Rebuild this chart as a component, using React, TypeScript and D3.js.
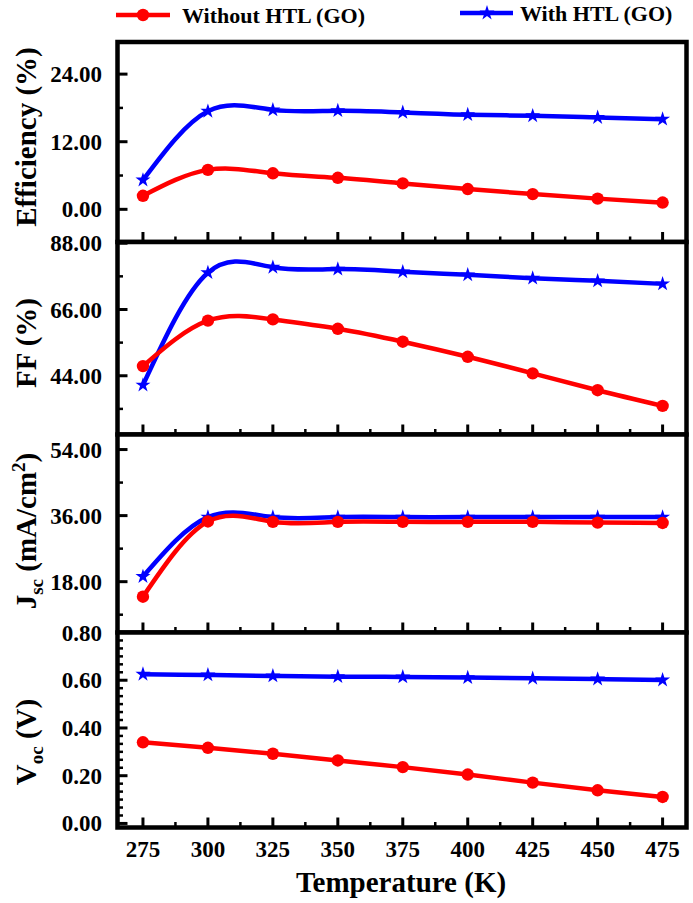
import React from "react";
import * as d3 from "d3";

const temperatures = [275, 300, 325, 350, 375, 400, 425, 450, 475];
const xTickValues = [275, 300, 325, 350, 375, 400, 425, 450, 475];
const xMinorTicks = [287.5, 312.5, 337.5, 362.5, 387.5, 412.5, 437.5, 462.5];

const effWithout = [2.4, 7.0, 6.4, 5.6, 4.6, 3.6, 2.7, 1.9, 1.2];
const effWith = [5.2, 17.4, 17.65, 17.5, 17.2, 16.8, 16.6, 16.3, 16.0];
const ffWithout = [47.2, 62.3, 62.7, 59.6, 55.3, 50.3, 44.8, 39.2, 34.0];
const ffWith = [40.9, 78.2, 80.0, 79.4, 78.5, 77.5, 76.4, 75.5, 74.5];
const jscWithout = [13.9, 34.4, 34.3, 34.3, 34.3, 34.3, 34.3, 34.1, 34.0];
const jscWith = [19.4, 35.6, 35.6, 35.6, 35.6, 35.6, 35.6, 35.6, 35.6];
const vocWithout = [0.34, 0.317, 0.292, 0.264, 0.236, 0.205, 0.171, 0.139, 0.111];
const vocWith = [0.625, 0.622, 0.618, 0.615, 0.614, 0.611, 0.608, 0.605, 0.601];

const effTicks = [0, 12, 24];
const effMinor = [6, 18];
const ffTicks = [44, 66, 88];
const ffMinor = [33, 55, 77];
const jscTicks = [18, 36, 54];
const jscMinor = [9, 27, 45];
const vocTicks = [0, 0.2, 0.4, 0.6, 0.8];
const vocMinor = [1, 2, 3, 4, 5, 7, 8, 9, 10, 11, 13, 14, 15, 16, 17, 19, 20, 21, 22, 23].map((k) => k / 30);

const seriesNames = ["Without HTL (GO)", "With HTL (GO)"];
const RED = "#ff0000";
const BLUE = "#0000ff";
const FONT =
  "'Times New Roman', Times, 'Liberation Serif', Tinos, 'Nimbus Roman', 'Nimbus Roman No9 L', 'Noto Serif', 'DejaVu Serif', FreeSerif, serif";
const fontStyle: React.CSSProperties = { fontFamily: FONT, fontWeight: 700 };

const LEFT = 117.5;
const RIGHT = 686.5;

const x = d3.scaleLinear().domain([265.2, 484.2]).range([LEFT, RIGHT]);

type Panel = {
  key: string;
  top: number;
  bottom: number;
  domain: [number, number];
  ticks: number[];
  minor: number[];
  without: number[];
  withH: number[];
  labelY: number;
  label: React.ReactNode;
};

const panels: Panel[] = [
  {
    key: "eff",
    top: 42,
    bottom: 242,
    domain: [-5.8, 29.7],
    ticks: effTicks,
    minor: effMinor,
    without: effWithout,
    withH: effWith,
    labelY: 137,
    label: <tspan>Efficiency (%)</tspan>,
  },
  {
    key: "ff",
    top: 242,
    bottom: 434.5,
    domain: [24.5, 88.4],
    ticks: ffTicks,
    minor: ffMinor,
    without: ffWithout,
    withH: ffWith,
    labelY: 343,
    label: <tspan>FF (%)</tspan>,
  },
  {
    key: "jsc",
    top: 434.5,
    bottom: 632.5,
    domain: [4.15, 58.1],
    ticks: jscTicks,
    minor: jscMinor,
    without: jscWithout,
    withH: jscWith,
    labelY: 531,
    label: (
      <>
        <tspan>J</tspan>
        <tspan fontSize={19} dy={7}>sc</tspan>
        <tspan dy={-7}> (mA/cm</tspan>
        <tspan fontSize={19} dy={-11}>2</tspan>
        <tspan dy={11}>)</tspan>
      </>
    ),
  },
  {
    key: "voc",
    top: 632.5,
    bottom: 827.5,
    domain: [-0.017, 0.8],
    ticks: vocTicks,
    minor: vocMinor,
    without: vocWithout,
    withH: vocWith,
    labelY: 742,
    label: (
      <>
        <tspan>V</tspan>
        <tspan fontSize={19} dy={7}>oc</tspan>
        <tspan dy={-7}> (V)</tspan>
      </>
    ),
  },
];

const starPath = d3.symbol().type(d3.symbolStar).size(70)() as string;

function PanelView({ p }: { p: Panel }) {
  const y = d3.scaleLinear().domain(p.domain).range([p.bottom, p.top]);
  const line = d3
    .line<number>()
    .x((_, i) => x(temperatures[i]))
    .y((d) => y(d))
    .curve(d3.curveNatural);
  return (
    <g>
      <rect x={LEFT} y={p.top} width={RIGHT - LEFT} height={p.bottom - p.top} fill="#ffffff" />
      <path d={line(p.withH) || ""} fill="none" stroke={BLUE} strokeWidth={4.5} />
      {p.withH.map((v, i) => (
        <path key={"s" + i} d={starPath} transform={`translate(${x(temperatures[i])},${y(v)})`} fill={BLUE} />
      ))}
      <path d={line(p.without) || ""} fill="none" stroke={RED} strokeWidth={4.5} />
      {p.without.map((v, i) => (
        <circle key={"c" + i} cx={x(temperatures[i])} cy={y(v)} r={6.2} fill={RED} />
      ))}
      {p.ticks.map((t) => (
        <g key={"yt" + t}>
          <line x1={LEFT} x2={LEFT + 10} y1={y(t)} y2={y(t)} stroke="#000" strokeWidth={3} />
          <text x={102} y={y(t)} dy="0.35em" textAnchor="end" style={fontStyle} fontSize={23} fill="#000">
            {d3.format(".2f")(t)}
          </text>
        </g>
      ))}
      {p.minor.map((t) => (
        <line key={"ym" + t} x1={LEFT} x2={LEFT + 5.5} y1={y(t)} y2={y(t)} stroke="#000" strokeWidth={2.5} />
      ))}
      {xTickValues.map((t) => (
        <line key={"xt" + t} x1={x(t)} x2={x(t)} y1={p.bottom} y2={p.bottom - 10} stroke="#000" strokeWidth={3} />
      ))}
      {xMinorTicks.map((t) => (
        <line key={"xm" + t} x1={x(t)} x2={x(t)} y1={p.bottom} y2={p.bottom - 5.5} stroke="#000" strokeWidth={2.5} />
      ))}
      <rect
        x={LEFT}
        y={p.top}
        width={RIGHT - LEFT}
        height={p.bottom - p.top}
        fill="none"
        stroke="#000"
        strokeWidth={4.5}
      />
      <text
        transform={`translate(36,${p.labelY}) rotate(-90)`}
        textAnchor="middle"
        style={fontStyle}
        fontSize={29}
        fill="#000"
      >
        {p.label}
      </text>
    </g>
  );
}

export default function App() {
  return (
    <svg
      width={693}
      height={903}
      viewBox="0 0 693 903"
      style={{ position: "absolute", left: 0, top: 0, background: "#ffffff" }}
    >
      <rect x={0} y={0} width={693} height={903} fill="#ffffff" />
      {panels.map((p) => (
        <PanelView key={p.key} p={p} />
      ))}
      {xTickValues.map((t) => (
        <text key={"xl" + t} x={x(t)} y={857} textAnchor="middle" style={fontStyle} fontSize={23} fill="#000">
          {t}
        </text>
      ))}
      <text x={401} y={892} textAnchor="middle" style={fontStyle} fontSize={29} fill="#000">
        Temperature (K)
      </text>
      <g>
        <line x1={116} x2={170} y1={15} y2={15} stroke={RED} strokeWidth={4.5} />
        <circle cx={143} cy={15} r={6.2} fill={RED} />
        <text x={182} y={23} style={fontStyle} fontSize={22} fill="#000">
          {seriesNames[0]}
        </text>
        <line x1={460} x2={513} y1={13} y2={13} stroke={BLUE} strokeWidth={4.5} />
        <path d={starPath} transform="translate(487,13)" fill={BLUE} />
        <text x={520} y={21} style={fontStyle} fontSize={22} fill="#000">
          {seriesNames[1]}
        </text>
      </g>
    </svg>
  );
}
